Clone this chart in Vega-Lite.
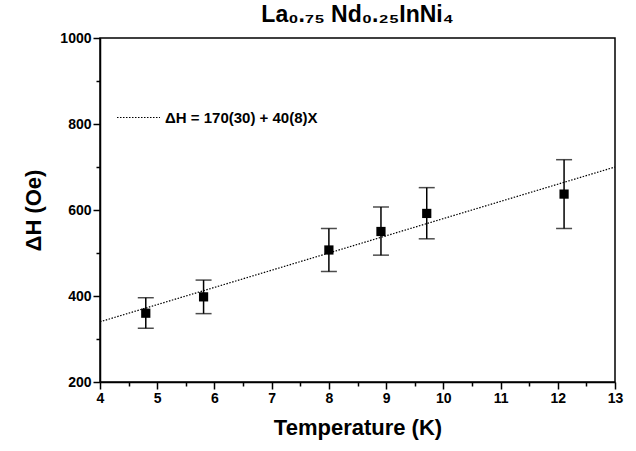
{
  "$schema": "https://vega.github.io/schema/vega-lite/v6.json",
  "width": 515,
  "height": 344,
  "autosize": {"type": "none"},
  "padding": {"left": 100, "top": 38, "right": 21, "bottom": 69},
  "background": "white",
  "config": {
    "font": "Liberation Sans",
    "view": {"stroke": "black", "strokeWidth": 1.5},
    "axis": {"grid": false, "domainColor": "black", "domainWidth": 1.5, "labelColor": "black", "labelFont": "Liberation Sans", "labelFontWeight": "bold", "labelFontSize": 14, "titleFont": "Liberation Sans", "titleFontWeight": "bold", "titleFontSize": 22, "titleColor": "black"}
  },
  "title": {"text": "La₀.₇₅ Nd₀.₂₅InNi₄", "fontSize": 23, "font": "Liberation Sans", "fontWeight": "bold", "color": "black", "offset": 4},
  "resolve": {"axis": {"x": "independent", "y": "independent"}},
  "datasets": {
    "pts": [
      {"T": 4.8, "dH": 360, "lo": 325, "hi": 396},
      {"T": 5.81, "dH": 398, "lo": 359, "hi": 437},
      {"T": 8.0, "dH": 507, "lo": 457, "hi": 557},
      {"T": 8.91, "dH": 550, "lo": 495, "hi": 607},
      {"T": 9.71, "dH": 592, "lo": 533, "hi": 652},
      {"T": 12.11, "dH": 637, "lo": 557, "hi": 717}
    ],
    "fit": [
      {"T": 4, "dH": 340, "series": "ΔH = 170(30) + 40(8)X"},
      {"T": 13, "dH": 700, "series": "ΔH = 170(30) + 40(8)X"}
    ]
  },
  "layer": [
    {
      "data": {"name": "fit"},
      "mark": {"type": "line", "color": "black", "strokeWidth": 1.2},
      "encoding": {
        "x": {"field": "T", "type": "quantitative", "scale": {"domain": [4, 13], "nice": false, "zero": false},
          "axis": {"title": "Temperature (K)", "orient": "bottom", "values": [4,5,6,7,8,9,10,11,12,13], "format": "d",
            "ticks": true, "tickSize": 7, "tickColor": "black", "tickWidth": 1.5, "labelPadding": 2, "titlePadding": 12, "labelFlush": false}},
        "y": {"field": "dH", "type": "quantitative", "scale": {"domain": [200, 1000], "nice": false, "zero": false},
          "axis": {"title": "ΔH (Oe)", "orient": "left", "values": [200,400,600,800,1000], "format": "d",
            "ticks": true, "tickSize": 7, "tickColor": "black", "tickWidth": 1.5, "labelPadding": 2, "titlePadding": 14}},
        "strokeDash": {"field": "series", "type": "nominal", "scale": {"range": [[1.5, 1.5]]},
          "legend": {"title": null, "orient": "none", "legendX": 16, "legendY": 57, "symbolType": "stroke", "symbolSize": 1850, "symbolStrokeColor": "black", "symbolStrokeWidth": 1.2, "labelFont": "Liberation Sans", "labelFontWeight": "bold", "labelFontSize": 15, "labelColor": "black", "labelOffset": 4}}
      }
    },
    {
      "data": {"name": "pts"},
      "mark": {"type": "rule", "color": "black", "strokeWidth": 1.5},
      "encoding": {
        "x": {"field": "T", "type": "quantitative",
          "axis": {"title": null, "orient": "bottom", "values": [4.5,5.5,6.5,7.5,8.5,9.5,10.5,11.5,12.5], "labels": false, "domain": false, "ticks": true, "tickSize": 4, "tickColor": "black", "tickWidth": 1.5}},
        "y": {"field": "lo", "type": "quantitative",
          "axis": {"title": null, "orient": "left", "values": [300,500,700,900], "labels": false, "domain": false, "ticks": true, "tickSize": 4, "tickColor": "black", "tickWidth": 1.5}},
        "y2": {"field": "hi"}
      }
    },
    {
      "data": {"name": "pts"},
      "mark": {"type": "tick", "orient": "horizontal", "color": "black", "size": 16, "thickness": 1.5},
      "encoding": {
        "x": {"field": "T", "type": "quantitative", "axis": null},
        "y": {"field": "lo", "type": "quantitative", "axis": null}
      }
    },
    {
      "data": {"name": "pts"},
      "mark": {"type": "tick", "orient": "horizontal", "color": "black", "size": 16, "thickness": 1.5},
      "encoding": {
        "x": {"field": "T", "type": "quantitative", "axis": null},
        "y": {"field": "hi", "type": "quantitative", "axis": null}
      }
    },
    {
      "data": {"name": "pts"},
      "mark": {"type": "point", "shape": "square", "filled": true, "color": "black", "size": 85, "opacity": 1},
      "encoding": {
        "x": {"field": "T", "type": "quantitative", "axis": null},
        "y": {"field": "dH", "type": "quantitative", "axis": null}
      }
    }
  ]
}
